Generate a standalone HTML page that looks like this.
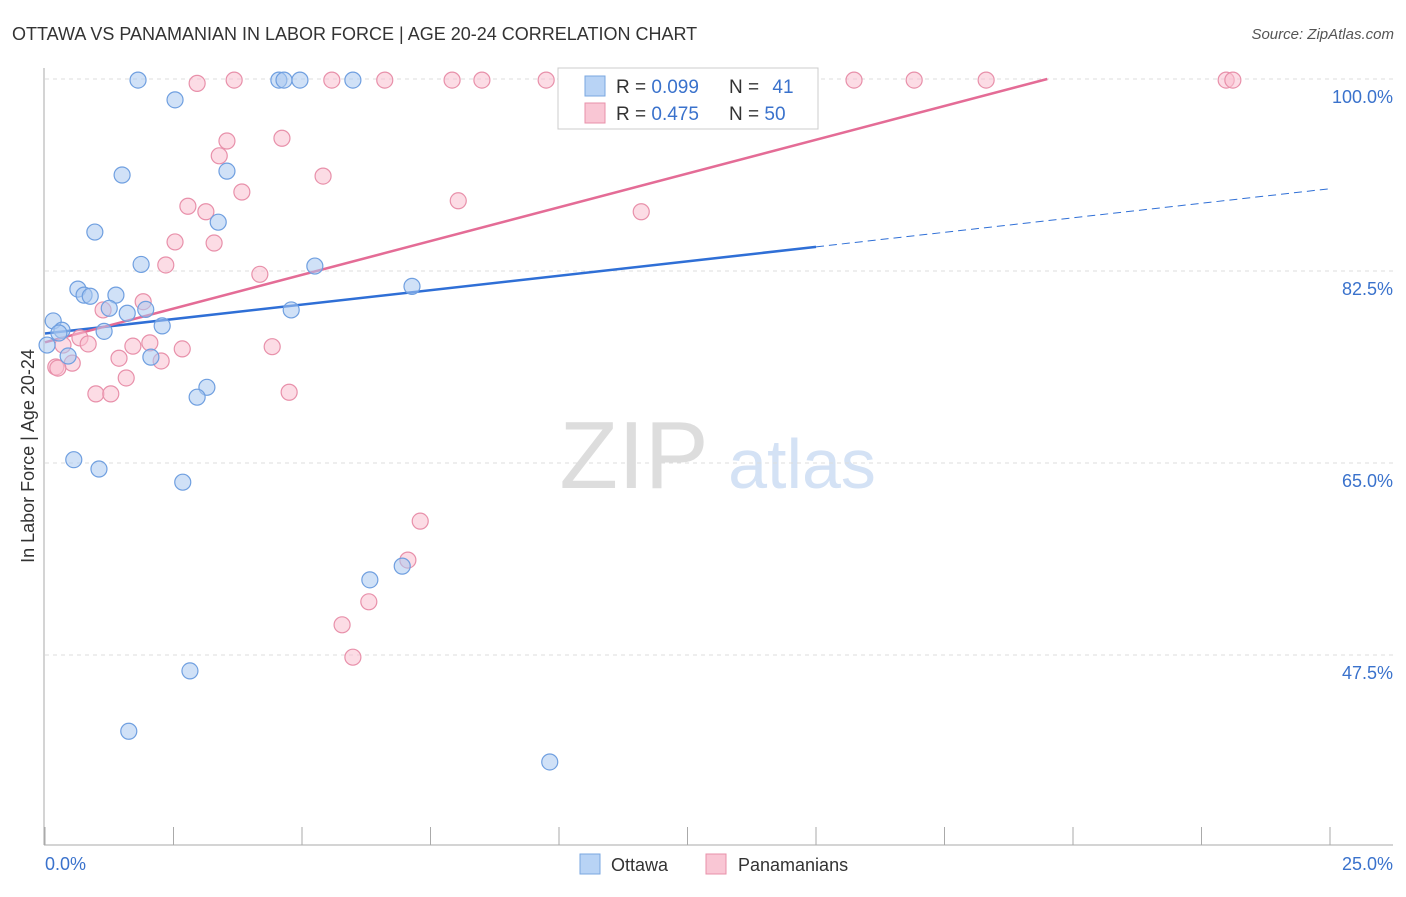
<!DOCTYPE html>
<html><head><meta charset="utf-8"><style>
body{margin:0;background:#fff;font-family:"Liberation Sans",sans-serif;}
svg text{font-family:"Liberation Sans",sans-serif;}
</style></head><body>
<svg id="chart" width="1406" height="892" viewBox="0 0 1406 892" xmlns="http://www.w3.org/2000/svg">
<text x="12" y="40" font-size="18" fill="#333">OTTAWA VS PANAMANIAN IN LABOR FORCE | AGE 20-24 CORRELATION CHART</text>
<text x="1394" y="39" font-size="15" fill="#555" font-style="italic" text-anchor="end">Source: ZipAtlas.com</text>
<text x="634" y="488" font-size="96" fill="#ddd" font-family="Liberation Serif" text-anchor="middle">ZIP</text>
<text x="802" y="488" font-size="70" fill="#d4e2f5" text-anchor="middle">atlas</text>
<g id="grid"></g>
<g id="axes"></g>
<g id="lines"></g>
<g id="points"></g>
<text transform="translate(34,456) rotate(-90)" font-size="18" fill="#333" text-anchor="middle">In Labor Force | Age 20-24</text>
<g>
<rect x="558" y="68" width="260" height="61" fill="#fff" stroke="#ccc"/>
<rect x="585" y="76" width="20" height="20" fill="#b8d3f5" stroke="#7aa7e0"/>
<rect x="585" y="103" width="20" height="20" fill="#f9c6d4" stroke="#e890aa"/>
<text x="616" y="93" font-size="19" fill="#333">R = <tspan fill="#3a72cc">0.099</tspan></text>
<text x="729" y="93" font-size="19" fill="#333">N = <tspan fill="#3a72cc" dx="8">41</tspan></text>
<text x="616" y="120" font-size="19" fill="#333">R = <tspan fill="#3a72cc">0.475</tspan></text>
<text x="729" y="120" font-size="19" fill="#333">N = <tspan fill="#3a72cc">50</tspan></text>
</g>
<g>
<rect x="580" y="854" width="20" height="20" fill="#b8d3f5" stroke="#7aa7e0"/>
<text x="611" y="871" font-size="18" fill="#333">Ottawa</text>
<rect x="706" y="854" width="20" height="20" fill="#f9c6d4" stroke="#e890aa"/>
<text x="738" y="871" font-size="18" fill="#333">Panamanians</text>
</g>
</svg>
<script>
const yTicks=[100,82.5,65,47.5];
const yTickLabels=["100.0%","82.5%","65.0%","47.5%"];
const xTickLabels=["0.0%","25.0%"];
const ottawaX=[1.81,2.53,4.55,4.65,4.96,5.99,11.5,11.77,1.50,3.54,0.97,3.37,1.87,5.25,0.64,0.76,0.88,1.38,7.14,1.25,1.60,1.96,4.79,0.16,0.33,0.27,1.15,2.28,0.04,0.45,2.06,3.15,2.96,0.56,1.05,2.68,6.32,6.95,2.82,1.63,9.82];
const ottawaY=[99.9,98.1,99.9,99.9,99.9,99.9,99.9,99.9,91.25,91.6,86.05,86.95,83.1,82.95,80.85,80.3,80.2,80.3,81.1,79.1,78.65,79.0,78.95,77.95,77.1,76.85,77.0,77.5,75.75,74.75,74.65,71.9,71.0,65.3,64.45,63.25,54.35,55.6,46.05,40.55,37.75];
const panX=[2.96,3.68,5.58,6.61,7.92,8.50,9.75,12.59,14.65,15.74,16.91,18.31,22.98,23.11,3.54,4.61,3.39,5.41,3.83,8.04,2.78,3.13,11.6,2.53,3.29,2.35,4.18,1.91,1.13,0.68,0.84,0.35,1.71,2.04,2.67,4.42,1.44,2.26,0.53,0.21,1.58,0.99,1.28,4.75,7.30,7.06,6.30,5.78,5.99,0.25];
const panY=[99.6,99.9,99.9,99.9,99.9,99.9,99.9,99.9,99.9,99.9,99.9,99.9,99.9,99.9,94.35,94.6,93.0,91.15,89.7,88.9,88.4,87.9,87.9,85.15,85.05,83.05,82.2,79.7,78.95,76.4,75.85,75.75,75.65,75.95,75.4,75.6,74.55,74.3,74.1,73.75,72.75,71.3,71.3,71.45,59.7,56.15,52.35,50.25,47.3,73.65];
const ottawaTrend=[[0,76.8],[15,84.7],[25,90.0]];
const panTrend=[[0,76.0],[19.5,100]];
const NS="http://www.w3.org/2000/svg";
const X=v=>45+v/25*1285, Y=v=>79+(100-v)*192/17.5;
function mk(t,a,p){const e=document.createElementNS(NS,t);for(const k in a)e.setAttribute(k,a[k]);p.appendChild(e);return e;}
const grid=document.getElementById('grid'),axes=document.getElementById('axes'),lines=document.getElementById('lines'),pts=document.getElementById('points');
yTicks.forEach((t,i)=>{
 const l=mk('line',{x1:45,x2:1393,y1:Y(t),y2:Y(t),stroke:'#ddd','stroke-dasharray':'4,4'},grid);
 
 
 const tx=mk('text',{x:1393,y:Y(t)+24,'font-size':18,fill:'#3a72cc','text-anchor':'end'},axes);
 tx.textContent=yTickLabels[i];
 
 
});
mk('line',{x1:44,x2:44,y1:68,y2:845,stroke:'#aaa'},axes);
mk('line',{x1:44,x2:1393,y1:845,y2:845,stroke:'#aaa'},axes);
for(let i=0;i<=10;i++){const t=mk('line',{x1:X(i*2.5),x2:X(i*2.5),y1:827,y2:845,stroke:'#aaa'},axes);
 
 }
let a=mk('text',{x:45,y:870,'font-size':18,fill:'#3a72cc'},axes);a.textContent=xTickLabels[0];


a=mk('text',{x:1393,y:870,'font-size':18,fill:'#3a72cc','text-anchor':'end'},axes);a.textContent=xTickLabels[1];


function dot(x,y,f,s,name){const c=mk('circle',{cx:X(x),cy:Y(y),r:8,fill:f,'fill-opacity':0.55,stroke:s,'stroke-width':1.2},pts);
 
 }
panX.forEach((x,i)=>dot(x,panY[i],'#f9c0d0','#e890aa','panamanian-point'));
ottawaX.forEach((x,i)=>dot(x,ottawaY[i],'#a9c8f0','#6f9fe0','ottawa-point'));
let l=mk('line',{x1:X(ottawaTrend[0][0]),y1:Y(ottawaTrend[0][1]),x2:X(ottawaTrend[1][0]),y2:Y(ottawaTrend[1][1]),stroke:'#2f6fd6','stroke-width':2.5},lines);


l=mk('line',{x1:X(ottawaTrend[1][0]),y1:Y(ottawaTrend[1][1]),x2:X(ottawaTrend[2][0]),y2:Y(ottawaTrend[2][1]),stroke:'#2f6fd6','stroke-width':1,'stroke-dasharray':'8,5'},lines);


l=mk('line',{x1:X(panTrend[0][0]),y1:Y(panTrend[0][1]),x2:X(panTrend[1][0]),y2:Y(panTrend[1][1]),stroke:'#e46c96','stroke-width':2.5},lines);


</script>
</body></html>
